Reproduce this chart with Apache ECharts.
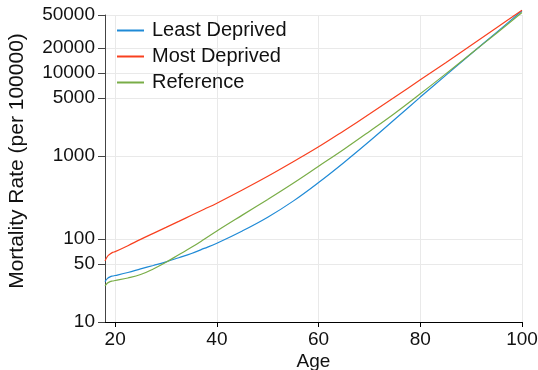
<!DOCTYPE html>
<html>
<head>
<meta charset="utf-8">
<script src="https://cdn.jsdelivr.net/npm/echarts@6/dist/echarts.min.js"></script>
<style>html,body{margin:0;padding:0;background:#fff}#c{width:538px;height:370px}</style>
</head>
<body>
<div id="c"></div>
<script>
const ages = [18, 18.5, 19, 19.5, 20, 22.5, 25, 27.5, 30, 32.5, 35, 37.5, 40, 45, 50, 55, 60, 65, 70, 75, 80, 85, 90, 95, 100];
const leastDeprived = [30.7, 33.5, 35, 35.8, 36.3, 39.5, 43.6, 48, 53, 59.5, 67, 77, 89, 125, 183, 286, 479, 836, 1503, 2767, 5129, 9376, 17060, 30900, 56230];
const mostDeprived = [54.5, 62, 66, 69, 70.5, 83, 99, 117, 138, 163, 193, 228, 270, 389, 569, 851, 1290, 2020, 3200, 5130, 8280, 13300, 21600, 35100, 57150];
const reference = [27.3, 29.5, 30.7, 31.2, 31.6, 33.9, 37.3, 43.6, 52.5, 64.6, 79.4, 99.3, 125, 194, 300, 470, 752, 1205, 1977, 3281, 5620, 9770, 17180, 30200, 53600];
const seriesNames = ['Least Deprived', 'Most Deprived', 'Reference'];
const xTicks = [20, 40, 60, 80, 100];
const yTicks = [10, 50, 100, 1000, 5000, 10000, 20000, 50000];

const colors = ['#1f8ad6', '#f8401f', '#79ad47'];
const pair = (vals) => ages.map((a, i) => [a, vals[i]]);
const font = 'Liberation Sans, Arial, sans-serif';

const chart = echarts.init(document.getElementById('c'), null, {renderer: 'canvas'});
chart.setOption({
  animation: false,
  color: colors,
  grid: {left: 105, right: 16, top: 15, bottom: 48, containLabel: false, outerBoundsMode: 'none'},
  legend: {
    orient: 'vertical', left: 116, top: 20.5, padding: 0, itemWidth: 27, itemHeight: 14, itemGap: 6,
    data: seriesNames,
    itemStyle: {opacity: 0},
    textStyle: {fontFamily: font, fontSize: 20, color: '#111', lineHeight: 20, padding: [0, 0, 0, 3]}
  },
  xAxis: {
    type: 'value', min: 18, max: 100,
    name: 'Age', nameLocation: 'middle', nameGap: 30, nameMoveOverlap: false,
    nameTextStyle: {fontFamily: font, fontSize: 19, color: '#111'},
    axisLine: {show: true, lineStyle: {color: '#000', width: 1}},
    axisTick: {show: true, length: 5, customValues: xTicks, lineStyle: {color: '#000'}},
    axisLabel: {customValues: xTicks, fontFamily: font, fontSize: 19, color: '#111', margin: 8, formatter: v => String(v)},
    splitLine: {show: true, lineStyle: {color: '#e9e9e9', width: 1}}
  },
  yAxis: {
    type: 'log', logBase: 10, min: 10, max: 50000,
    name: 'Mortality Rate (per 100000)', nameLocation: 'middle', nameGap: 77, nameMoveOverlap: false,
    nameTextStyle: {fontFamily: font, fontSize: 21, color: '#111', padding: [0, 0, 0, 15]},
    axisLine: {show: true, lineStyle: {color: '#444', width: 1}},
    axisTick: {show: true, length: 7, customValues: yTicks, lineStyle: {color: '#444'}},
    axisLabel: {customValues: yTicks, fontFamily: font, fontSize: 19, color: '#111', margin: 10, formatter: v => String(Math.round(v))},
    splitLine: {show: true, lineStyle: {color: '#e9e9e9', width: 1}},
    minorTick: {show: false}
  },
  series: [
    {name: seriesNames[0], type: 'line', data: pair(leastDeprived), showSymbol: false, symbol: 'none', smooth: 0.4, clip: false, lineStyle: {width: 1.2}},
    {name: seriesNames[1], type: 'line', data: pair(mostDeprived), showSymbol: false, symbol: 'none', smooth: 0.4, clip: false, lineStyle: {width: 1.2}},
    {name: seriesNames[2], type: 'line', data: pair(reference), showSymbol: false, symbol: 'none', smooth: 0.4, clip: false, lineStyle: {width: 1.2}}
  ]
});
</script>
</body>
</html>
